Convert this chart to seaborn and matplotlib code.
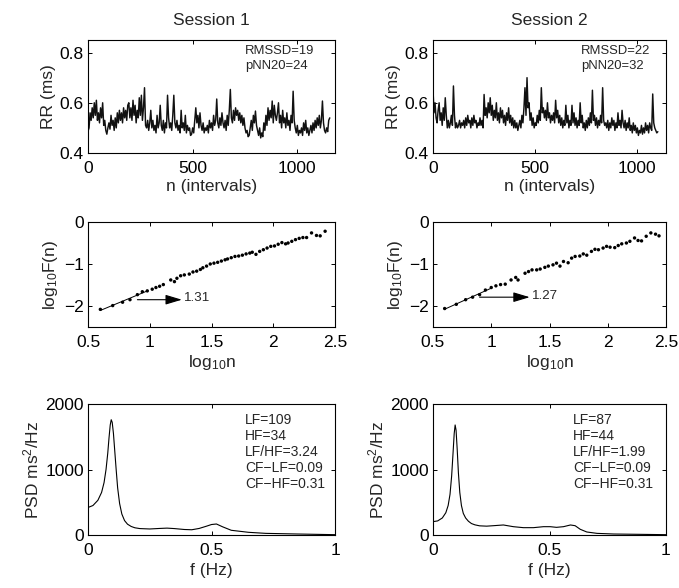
import numpy as np
import pandas as pd
import seaborn as sns
import matplotlib.pyplot as plt

# RR series, every 5 intervals
rr_step = 5
rr_s1 = [
    0.487, 0.50, 0.56, 0.53, 0.58, 0.54, 0.60, 0.55, 0.61, 0.53,
    0.56, 0.52, 0.58, 0.54, 0.60, 0.51, 0.53, 0.49, 0.475, 0.50,
    0.52, 0.495, 0.55, 0.51, 0.53, 0.49, 0.54, 0.50, 0.56, 0.52,
    0.57, 0.53, 0.56, 0.52, 0.58, 0.54, 0.57, 0.53, 0.59, 0.60,
    0.54, 0.58, 0.53, 0.61, 0.55, 0.59, 0.52, 0.57, 0.54, 0.62,
    0.55, 0.63, 0.53, 0.58, 0.66, 0.51, 0.50, 0.53, 0.49, 0.52,
    0.57, 0.50, 0.53, 0.49, 0.51, 0.48, 0.55, 0.50, 0.52, 0.59,
    0.51, 0.49, 0.53, 0.48, 0.52, 0.50, 0.63, 0.54, 0.50, 0.52,
    0.49, 0.55, 0.63, 0.52, 0.50, 0.53, 0.49, 0.51, 0.48, 0.57,
    0.50, 0.52, 0.49, 0.55, 0.48, 0.51, 0.49, 0.50, 0.47, 0.475,
    0.50, 0.48, 0.53, 0.58, 0.52, 0.55, 0.50, 0.56, 0.51, 0.49,
    0.52, 0.48, 0.50, 0.49, 0.51, 0.48, 0.53, 0.50, 0.52, 0.49,
    0.55, 0.51, 0.53, 0.615, 0.52, 0.50, 0.54, 0.51, 0.56, 0.52,
    0.50, 0.53, 0.49, 0.55, 0.51, 0.57, 0.653, 0.54, 0.52, 0.57,
    0.53, 0.58, 0.55, 0.57, 0.53, 0.56, 0.52, 0.55, 0.51, 0.54,
    0.50, 0.48, 0.49, 0.465, 0.47, 0.50, 0.53, 0.49, 0.55, 0.52,
    0.567, 0.51, 0.49, 0.47, 0.50, 0.46, 0.48, 0.465, 0.52, 0.49,
    0.55, 0.51, 0.58, 0.53, 0.57, 0.54, 0.607, 0.52, 0.59, 0.55,
    0.53, 0.56, 0.60, 0.52, 0.55, 0.50, 0.57, 0.52, 0.54, 0.50,
    0.56, 0.51, 0.53, 0.49, 0.55, 0.52, 0.646, 0.53, 0.50, 0.48,
    0.51, 0.47, 0.49, 0.48, 0.50, 0.47, 0.52, 0.49, 0.53, 0.48,
    0.50, 0.47, 0.49, 0.51, 0.48, 0.52, 0.49, 0.53, 0.50, 0.54,
    0.51, 0.55, 0.50, 0.53, 0.607, 0.52, 0.49, 0.48, 0.50, 0.485,
    0.53, 0.54,
]
rr_s2 = [
    0.653, 0.56, 0.60, 0.54, 0.52, 0.57, 0.60, 0.53, 0.56, 0.51,
    0.58, 0.53, 0.62, 0.55, 0.50, 0.53, 0.50, 0.52, 0.55, 0.51,
    0.667, 0.55, 0.50, 0.52, 0.50, 0.51, 0.53, 0.50, 0.52, 0.51,
    0.53, 0.50, 0.54, 0.51, 0.55, 0.52, 0.53, 0.50, 0.54, 0.51,
    0.55, 0.52, 0.53, 0.50, 0.52, 0.51, 0.54, 0.51, 0.53, 0.50,
    0.633, 0.55, 0.58, 0.54, 0.60, 0.56, 0.62, 0.55, 0.59, 0.53,
    0.57, 0.54, 0.60, 0.53, 0.56, 0.52, 0.58, 0.54, 0.57, 0.52,
    0.55, 0.51, 0.56, 0.53, 0.58, 0.52, 0.55, 0.51, 0.54, 0.50,
    0.53, 0.50, 0.52, 0.49, 0.51, 0.53, 0.50, 0.55, 0.52, 0.58,
    0.66, 0.55, 0.70, 0.58, 0.60, 0.53, 0.56, 0.51, 0.54, 0.50,
    0.52, 0.51, 0.55, 0.52, 0.57, 0.53, 0.66, 0.56, 0.58, 0.54,
    0.57, 0.53, 0.60, 0.54, 0.56, 0.52, 0.55, 0.53, 0.56, 0.52,
    0.61, 0.54, 0.57, 0.52, 0.55, 0.51, 0.54, 0.50, 0.53, 0.51,
    0.59, 0.52, 0.55, 0.50, 0.53, 0.51, 0.59, 0.52, 0.56, 0.51,
    0.54, 0.50, 0.53, 0.51, 0.60, 0.52, 0.55, 0.50, 0.52, 0.49,
    0.53, 0.50, 0.54, 0.51, 0.56, 0.52, 0.65, 0.53, 0.55, 0.51,
    0.54, 0.50, 0.53, 0.51, 0.55, 0.52, 0.66, 0.53, 0.51, 0.52,
    0.50, 0.53, 0.49, 0.52, 0.50, 0.54, 0.51, 0.53, 0.49, 0.52,
    0.50, 0.56, 0.51, 0.53, 0.50, 0.57, 0.52, 0.50, 0.53, 0.49,
    0.52, 0.50, 0.54, 0.49, 0.51, 0.48, 0.52, 0.49, 0.51, 0.48,
    0.50, 0.47, 0.49, 0.48, 0.51, 0.475, 0.50, 0.48, 0.52, 0.49,
    0.51, 0.48, 0.52, 0.50, 0.49, 0.635, 0.52, 0.50, 0.49, 0.48,
    0.485,
]
rr_xmax = [1180, 1140]
rr_stats = ['RMSSD=19\npNN20=24', 'RMSSD=22\npNN20=32']

# DFA: log10 n vs log10 F(n)
dfa_x1 = [0.60, 0.70, 0.78, 0.84, 0.90, 0.94, 0.98, 1.02, 1.05, 1.08,
          1.11, 1.17, 1.20, 1.22, 1.25, 1.28, 1.32, 1.35, 1.38, 1.41,
          1.43, 1.46, 1.49, 1.52, 1.55, 1.58, 1.61, 1.63, 1.66, 1.69,
          1.72, 1.75, 1.78, 1.81, 1.83, 1.86, 1.89, 1.92, 1.95, 1.98,
          2.01, 2.04, 2.07, 2.10, 2.12, 2.15, 2.18, 2.21, 2.24, 2.27,
          2.31, 2.35, 2.38, 2.42]
dfa_y1 = [-2.08, -1.99, -1.91, -1.85, -1.73, -1.66, -1.64, -1.60, -1.56, -1.53,
          -1.49, -1.38, -1.42, -1.34, -1.28, -1.26, -1.24, -1.19, -1.17, -1.13,
          -1.09, -1.05, -1.00, -0.98, -0.96, -0.93, -0.90, -0.88, -0.85, -0.82,
          -0.81, -0.79, -0.76, -0.74, -0.72, -0.77, -0.70, -0.66, -0.62, -0.58,
          -0.57, -0.53, -0.49, -0.52, -0.50, -0.46, -0.42, -0.39, -0.37, -0.37,
          -0.26, -0.32, -0.33, -0.22]
dfa_x2 = [0.60, 0.70, 0.78, 0.84, 0.90, 0.95, 1.00, 1.04, 1.08, 1.12,
          1.17, 1.21, 1.23, 1.29, 1.32, 1.35, 1.39, 1.42, 1.46, 1.49,
          1.53, 1.56, 1.59, 1.62, 1.66, 1.69, 1.72, 1.76, 1.79, 1.82,
          1.86, 1.89, 1.92, 1.96, 1.99, 2.02, 2.06, 2.09, 2.12, 2.16,
          2.19, 2.23, 2.26, 2.29, 2.33, 2.37, 2.41, 2.44]
dfa_y2 = [-2.06, -1.96, -1.85, -1.79, -1.73, -1.62, -1.56, -1.52, -1.49, -1.48,
          -1.38, -1.32, -1.38, -1.22, -1.18, -1.14, -1.14, -1.12, -1.08, -1.05,
          -1.02, -0.98, -1.05, -0.94, -0.97, -0.86, -0.82, -0.81, -0.76, -0.79,
          -0.70, -0.65, -0.66, -0.62, -0.58, -0.60, -0.61, -0.56, -0.52, -0.50,
          -0.46, -0.38, -0.44, -0.45, -0.34, -0.26, -0.29, -0.33]
dfa_alpha = ['1.31', '1.27']
arrow_y = [-1.85, -1.79]
arrow_x = [(0.90, 1.26), (0.90, 1.33)]

# PSD curves
psd_f1 = [0.0, 0.02, 0.04, 0.055, 0.065, 0.073, 0.08, 0.085, 0.09, 0.094,
          0.098, 0.103, 0.108, 0.114, 0.12, 0.128, 0.137, 0.148, 0.16, 0.175,
          0.19, 0.21, 0.25, 0.29, 0.32, 0.35, 0.39, 0.42, 0.45, 0.48,
          0.50, 0.52, 0.545, 0.58, 0.65, 0.72, 0.85, 1.0]
psd_p1 = [420, 450, 530, 650, 800, 1000, 1250, 1480, 1680, 1760,
          1720, 1550, 1300, 1000, 720, 480, 320, 220, 165, 130,
          110, 98, 92, 100, 105, 98, 84, 80, 100, 135,
          160, 168, 125, 72, 41, 25, 15, 5]
psd_f2 = [0.0, 0.02, 0.04, 0.055, 0.065, 0.073, 0.08, 0.086, 0.091, 0.095,
          0.099, 0.104, 0.109, 0.115, 0.122, 0.13, 0.14, 0.152, 0.165, 0.18,
          0.20, 0.23, 0.259, 0.302, 0.345, 0.388, 0.431, 0.474, 0.503, 0.53,
          0.56, 0.59, 0.61, 0.632, 0.66, 0.704, 0.776, 0.89, 1.0]
psd_p2 = [204, 215, 260, 340, 450, 620, 900, 1250, 1550, 1680,
          1600, 1300, 950, 650, 450, 330, 260, 210, 175, 155,
          140, 135, 142, 153, 127, 112, 112, 127, 127, 117,
          127, 153, 142, 87, 46, 25, 15, 10, 5]
psd_stats = ['LF=109\nHF=34\nLF/HF=3.24\nCF\u2212LF=0.09\nCF\u2212HF=0.31',
             'LF=87\nHF=44\nLF/HF=1.99\nCF\u2212LF=0.09\nCF\u2212HF=0.31']

sns.set_style('ticks')
plt.rcParams['font.family'] = ['Liberation Sans', 'DejaVu Sans']
plt.rcParams['mathtext.fontset'] = 'custom'
plt.rcParams['mathtext.rm'] = 'Liberation Sans'
plt.rcParams['mathtext.it'] = 'Liberation Sans'
plt.rcParams['mathtext.default'] = 'regular'
plt.rcParams['axes.unicode_minus'] = True

W, H = 679, 588
fig = plt.figure(figsize=(W / 100, H / 100), dpi=100)


def box(l, r, t, b):
    return [l / W, (H - b) / H, (r - l) / W, (b - t) / H]


cols = [(88, 335), (433, 666)]
rows = [(40, 153), (222, 327), (404, 535)]
fs = 12.5


def style(ax):
    ax.tick_params(direction='in', length=3, width=0.7, labelsize=fs,
                   top=True, right=True, pad=3, colors='black')
    ax.tick_params(axis='x', pad=6)
    for s in ax.spines.values():
        s.set_visible(True)
        s.set_linewidth(0.8)
        s.set_color('black')
    ax.set_facecolor('white')


for c in range(2):
    l, r = cols[c]
    # row 1: RR series
    ax = fig.add_axes(box(l, r, *rows[0]))
    rr = rr_s1 if c == 0 else rr_s2
    df = pd.DataFrame({'n': np.arange(len(rr)) * rr_step, 'rr': rr})
    sns.lineplot(data=df, x='n', y='rr', ax=ax, color='#111111', lw=1.05)
    ax.set_xlim(0, rr_xmax[c])
    ax.set_ylim(0.4, 0.85)
    ax.set_xticks([0, 500, 1000])
    ax.set_yticks([0.4, 0.6, 0.8])
    ax.set_yticklabels(['0.4', '0.6', '0.8'])
    ax.set_xlabel('n (intervals)', fontsize=fs, labelpad=2)
    ax.set_ylabel('RR (ms)', fontsize=fs, labelpad=3)
    ax.set_title('Session %d' % (c + 1), fontsize=fs, pad=11)
    ax.text(0.635, 0.955, rr_stats[c], transform=ax.transAxes, fontsize=9.4,
            va='top', ha='left', linespacing=1.3)
    style(ax)

    # row 2: DFA
    ax = fig.add_axes(box(l, r, *rows[1]))
    dx = dfa_x1 if c == 0 else dfa_x2
    dy = dfa_y1 if c == 0 else dfa_y2
    sns.scatterplot(x=dx, y=dy, ax=ax, color='black', s=6, edgecolor='none')
    k, b0 = np.polyfit(dx[:7], dy[:7], 1)
    fx = np.array(dx[:7])
    sns.lineplot(x=fx, y=k * fx + b0, ax=ax, color='black', lw=0.7)
    ax.annotate('', xy=(arrow_x[c][1], arrow_y[c]), xytext=(arrow_x[c][0], arrow_y[c]),
                arrowprops=dict(arrowstyle='-|>,head_length=1.0,head_width=0.3',
                                color='black', lw=0.8, shrinkA=0, shrinkB=0))
    ax.text(arrow_x[c][1] + 0.02, arrow_y[c] + 0.03, dfa_alpha[c], fontsize=9.6,
            va='center', ha='left')
    ax.set_xlim(0.5, 2.5)
    ax.set_ylim(-2.5, 0)
    ax.set_xticks([0.5, 1, 1.5, 2, 2.5])
    ax.set_xticklabels(['0.5', '1', '1.5', '2', '2.5'])
    ax.set_yticks([-2, -1, 0])
    ax.set_xlabel('log$_{10}$n', fontsize=fs, labelpad=2)
    ax.set_ylabel('log$_{10}$F(n)', fontsize=fs, labelpad=3)
    style(ax)

    # row 3: PSD
    ax = fig.add_axes(box(l, r, *rows[2]))
    pf = psd_f1 if c == 0 else psd_f2
    pp = psd_p1 if c == 0 else psd_p2
    sns.lineplot(x=pf, y=pp, ax=ax, color='black', lw=0.8)
    ax.set_xlim(0, 1)
    ax.set_ylim(0, 2000)
    ax.set_xticks([0, 0.5, 1])
    ax.set_xticklabels(['0', '0.5', '1'])
    ax.set_yticks([0, 1000, 2000])
    ax.set_xlabel('f (Hz)', fontsize=fs, labelpad=3)
    ax.set_ylabel('PSD ms$^{2}$/Hz', fontsize=fs, labelpad=3)
    ax.text(0.635 if c == 0 else 0.60, 0.935, psd_stats[c], transform=ax.transAxes,
            fontsize=10, va='top', ha='left', linespacing=1.2)
    style(ax)

fig.savefig('out.png', dpi=100, facecolor='white')
